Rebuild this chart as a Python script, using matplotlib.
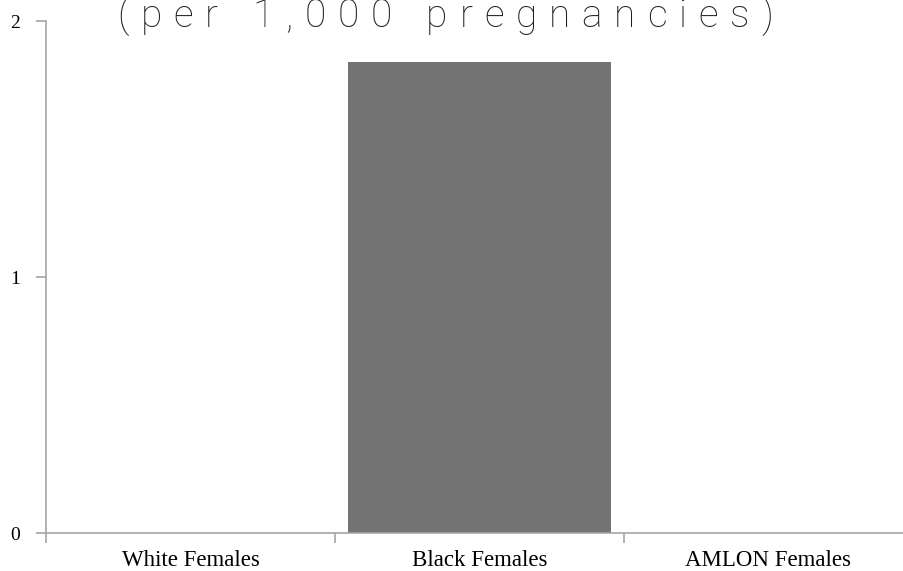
import numpy as np
import matplotlib
matplotlib.use('Agg')
import matplotlib.pyplot as plt
from matplotlib.transforms import IdentityTransform

categories = ['White Females', 'Black Females', 'AMLON Females']
values = [0.0, 1.84, 0.0]
y_ticks = [0, 1, 2]
title = '(per 1,000 pregnancies)'

fig = plt.figure(figsize=(9.04, 5.71), dpi=100)
ax = fig.add_axes([46 / 904, 38 / 571, 867 / 904, 512 / 571])

x = np.arange(len(categories))
ax.bar(x, values, width=0.91, color='#737373', zorder=2)

ax.set_xlim(-0.5, len(categories) - 0.5)
ax.set_ylim(0, 2)

spine_col = '#a6a6a6'
for s in ['top', 'right']:
    ax.spines[s].set_visible(False)
for s in ['left', 'bottom']:
    ax.spines[s].set_color(spine_col)
    ax.spines[s].set_linewidth(1.2)

ax.set_yticks(y_ticks)
ax.set_yticklabels([str(t) for t in y_ticks], fontfamily='Liberation Serif', fontsize=14)
ax.tick_params(axis='y', length=7, color=spine_col, width=1.2, pad=12)

# category labels sit between the boundary ticks
ax.set_xticks(np.arange(-0.5, len(categories), 1.0))
ax.set_xticklabels([])
ax.set_xticks(x, minor=True)
ax.set_xticklabels(categories, minor=True, fontfamily='Liberation Serif', fontsize=16.5)
ax.tick_params(axis='x', which='major', length=7, color=spine_col, width=1.2)
ax.tick_params(axis='x', which='minor', length=0, pad=12)

# letter-spaced title, top partly cut off like the source
fig.canvas.draw()
renderer = fig.canvas.get_renderer()
props = dict(fontfamily='Roboto', fontweight='light', fontsize=28, color='#1e1e1e',
             va='baseline', ha='left')
widths = []
for ch in title:
    t = fig.text(0, 0, 'n' if ch == ' ' else ch, **props)
    w = t.get_window_extent(renderer).width
    widths.append(w * 0.5 if ch == ' ' else w)
    t.remove()
left_px, right_px, base_px = 117, 773, 571 - 27
n_gaps = len(title) - 1
track = (right_px - left_px - sum(widths)) / n_gaps
xpos = left_px
for ch, w in zip(title, widths):
    if ch != ' ':
        fig.text(xpos, base_px, ch, transform=IdentityTransform(), **props)
    xpos += w + track

fig.savefig('out.png', dpi=100)
